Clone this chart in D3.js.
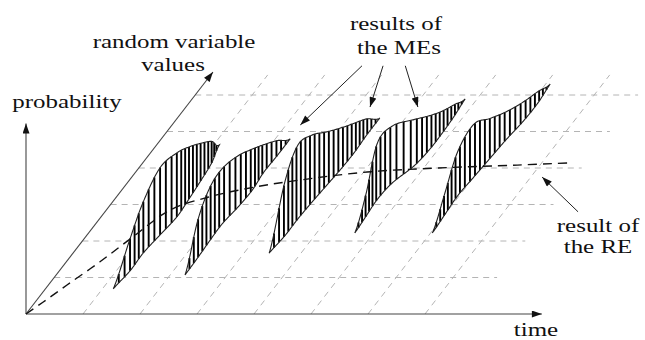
<!DOCTYPE html>
<html lang="en">
<head>
  <meta charset="utf-8">
  <title>ME / RE results over time</title>
  <script src="https://cdn.jsdelivr.net/npm/d3@7"></script>
  <style>
    body { margin: 0; background: #fff; }
  </style>
</head>
<body>
  <svg class="chart" width="645" height="340"></svg>
  <script>
    // floor grid: time steps and random-variable steps
    var gridTimes = [1, 2, 3, 4, 5, 6, 7];
    var gridValues = [1, 2, 3, 4, 5, 6];

    // results of the MEs: one distribution per time
    var meFrom = [0.69, 1.07, 1.67, 2.22, 2.22];   // lowest value
    var meTo   = [4.63, 4.80, 5.37, 5.89, 6.30];   // highest value
    var meTime = [
      [1.19, 1.24, 1.23, 1.28, 1.33, 1.30, 1.26, 1.21, 1.10],
      [2.26, 2.25, 2.23, 2.22, 2.27, 2.29, 2.25, 2.26, 2.26],
      [3.44, 3.48, 3.48, 3.50, 3.53, 3.56, 3.57, 3.55, 3.55],
      [4.67, 4.64, 4.61, 4.65, 4.80, 4.85, 4.85, 4.83, 4.79],
      [6.03, 6.00, 5.97, 6.00, 6.03, 6.06, 6.11, 6.12, 6.08]
    ];
    var meProb = [
      [0, .40, .64, .84, .80, .65, .47, .27, 0],
      [0, .46, .66, .69, .64, .51, .35, .19, 0],
      [0, .66, .92, .84, .67, .51, .36, .20, 0],
      [0, .28, .70, .71, .58, .42, .27, .14, 0],
      [0, .27, .55, .66, .50, .35, .24, .14, 0]
    ];

    // result of the RE
    var reTime  = [0, 0.14, 0.33, 0.59, 0.83, 1.12, 1.61, 2.30, 2.99, 4.06, 5.25, 6.60, 7.50];
    var reValue = [0, 0.33, 0.80, 1.43, 2.11, 2.85, 3.20, 3.48, 3.67, 3.89, 4.00, 4.08, 4.14];

    var svg = d3.select("svg.chart");

    var x = d3.scaleLinear().domain([0, 9]).range([26, 539]);          // time
    var rY = d3.scaleLinear().domain([0, 7]).range([314, 58.5]);       // value, depth (vertical part)
    var rX = d3.scaleLinear().domain([0, 7]).range([0, 197.4]);        // value, depth (horizontal part)
    var p = d3.scaleLinear().domain([0, 1]).range([0, 80]);            // probability

    function proj(t, r, pr) {
      return [x(t) + rX(r), rY(r) - p(pr || 0)];
    }

    // catmull-rom through evenly spaced samples, u in [0,1]
    function cr(vals, u) {
      var n = vals.length - 1, s = u * n;
      var i = Math.min(Math.floor(s), n - 1), f = s - i;
      var p0 = vals[Math.max(i - 1, 0)], p1 = vals[i], p2 = vals[i + 1], p3 = vals[Math.min(i + 2, n)];
      return 0.5 * (2 * p1 + (-p0 + p2) * f + (2 * p0 - 5 * p1 + 4 * p2 - p3) * f * f +
                    (-p0 + 3 * p1 - 3 * p2 + p3) * f * f * f);
    }

    var defs = svg.append("defs");
    defs.append("marker")
        .attr("id", "arr")
        .attr("viewBox", "0 0 10 7")
        .attr("refX", 10).attr("refY", 3.5)
        .attr("markerWidth", 11).attr("markerHeight", 7)
        .attr("markerUnits", "userSpaceOnUse")
        .attr("orient", "auto")
      .append("path")
        .attr("d", "M0,0L10,3.5L0,7Z")
        .attr("fill", "#111");

    var line = d3.line();

    // grid
    var grid = svg.append("g")
        .attr("stroke", "#b4b4b4")
        .attr("stroke-width", 1)
        .attr("stroke-dasharray", "6,5")
        .attr("fill", "none");

    grid.selectAll(".hg")
      .data(gridValues)
      .enter().append("path")
        .attr("d", function(r) { return line([proj(0, r), proj(7.77, r)]); });

    grid.selectAll(".vg")
      .data(gridTimes)
      .enter().append("path")
        .attr("d", function(t) { return line([proj(t, 0), proj(t, 6.55)]); });

    // axes
    var axes = svg.append("g")
        .attr("stroke", "#444")
        .attr("stroke-width", 1.1)
        .attr("fill", "none");

    axes.append("path")
        .attr("d", line([proj(0, 0), proj(9.05, 0)]))
        .attr("marker-end", "url(#arr)");
    axes.append("path")
        .attr("d", line([proj(0, 0), proj(0, 0, 2.38)]))
        .attr("marker-end", "url(#arr)");
    axes.append("path")
        .attr("d", line([proj(0, 0), proj(0, 6.63)]))
        .attr("marker-end", "url(#arr)");

    // ME distributions
    var N = 160;
    meTime.forEach(function(ts, k) {
      var r0 = meFrom[k], r1 = meTo[k];
      var upper = [], lower = [];
      for (var i = 0; i <= N; i++) {
        var u = i / N;
        var t = cr(ts, u), r = r0 + (r1 - r0) * u;
        var pr = Math.max(0, cr(meProb[k], u));
        upper.push(proj(t, r, pr));
        lower.push(proj(t, r, 0));
      }
      var g = svg.append("g");
      var outline = upper.concat(lower.slice().reverse());

      g.append("path")
          .attr("d", line(outline) + "Z")
          .attr("fill", "#fff");

      var width = lower[N][0] - lower[0][0];
      var M = Math.round(width / 4.5);
      var hatch = [];
      for (var j = 1; j < M; j++) {
        var u = j / M;
        var t = cr(ts, u), r = r0 + (r1 - r0) * u;
        var pr = Math.max(0, cr(meProb[k], u));
        hatch.push([proj(t, r, 0), proj(t, r, pr)]);
      }
      g.selectAll(".h")
        .data(hatch)
        .enter().append("path")
          .attr("d", function(d) { return line(d); })
          .attr("stroke", "#000")
          .attr("stroke-width", 1.9);

      g.append("path")
          .attr("d", line(outline) + "Z")
          .attr("fill", "none")
          .attr("stroke", "#222")
          .attr("stroke-width", 1.1);
    });

    // RE curve
    svg.append("path")
        .datum(reTime.map(function(t, i) { return proj(t, reValue[i]); }))
        .attr("d", d3.line().curve(d3.curveCatmullRom))
        .attr("fill", "none")
        .attr("stroke", "#111")
        .attr("stroke-width", 1.4)
        .attr("stroke-dasharray", "9,6");

    // annotation arrows, ends given on the floor (time, value)
    var notes = [
      [[2.53, 6.80], [2.25, 5.18]],
      [[2.90, 6.80], [3.23, 5.67]],
      [[3.29, 6.80], [4.07, 5.67]],
      [[8.30, 2.80], [7.20, 3.75]]
    ];
    svg.append("g").selectAll("path")
      .data(notes)
      .enter().append("path")
        .attr("d", function(d) { return line([proj(d[0][0], d[0][1]), proj(d[1][0], d[1][1])]); })
        .attr("stroke", "#222")
        .attr("stroke-width", 1)
        .attr("marker-end", "url(#arr)");

    // labels
    var labels = [
      ["random variable", 174, 48],
      ["values", 173, 71],
      ["probability", 67, 108],
      ["results of", 396, 30],
      ["the MEs", 399, 54],
      ["result of", 598, 232],
      ["the RE", 598, 253],
      ["time", 536, 336]
    ];
    svg.selectAll(".lbl")
      .data(labels)
      .enter().append("text")
        .attr("text-anchor", "middle")
        .attr("font-family", "'Liberation Serif', 'Times New Roman', 'DejaVu Serif', serif")
        .attr("font-size", 19.5)
        .attr("fill", "#111")
        .attr("transform", function(d) { return "translate(" + d[1] + "," + d[2] + ") scale(1.28,1)"; })
        .text(function(d) { return d[0]; });
  </script>
</body>
</html>
